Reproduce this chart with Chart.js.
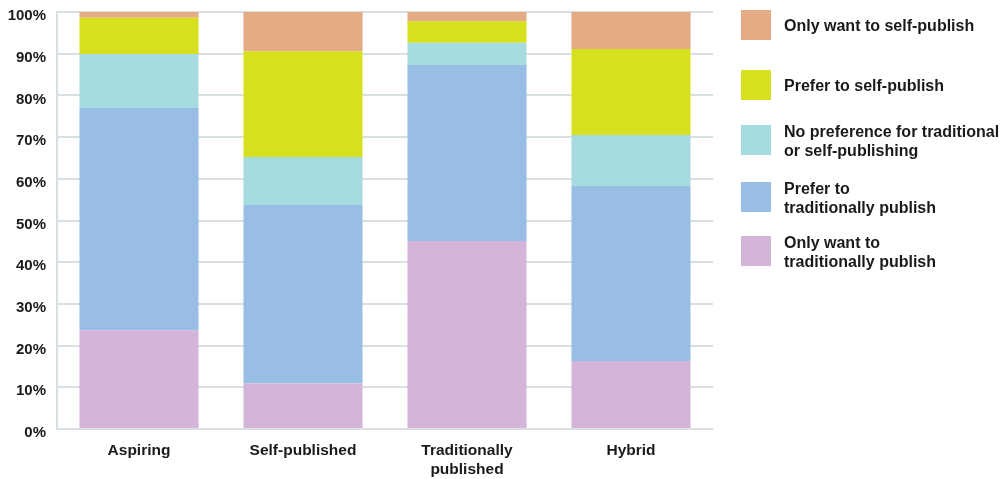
<!DOCTYPE html>
<html>
<head>
<meta charset="utf-8">
<script src="https://cdn.jsdelivr.net/npm/chart.js@4/dist/chart.umd.min.js"></script>
<style>
  html, body { margin: 0; padding: 0; background: #fff; }
  #wrap { width: 1008px; height: 479px; position: relative; }
</style>
</head>
<body>
<div id="wrap"><canvas id="prefChart"></canvas></div>
<script>
const categories = ['Aspiring', 'Self-published', ['Traditionally', 'published'], 'Hybrid'];
const yTicks = [0, 10, 20, 30, 40, 50, 60, 70, 80, 90, 100];

// bottom to top of each stack
const onlyTraditional = [23.7, 11.0, 45.1, 16.3];
const preferTraditional = [53.3, 42.7, 42.2, 42.0];
const noPreference = [12.9, 11.5, 5.3, 12.2];
const preferSelf = [8.7, 25.4, 5.2, 20.6];
const onlySelf = [1.4, 9.4, 2.2, 8.9];

const seriesNames = [
    ['Only want to', 'traditionally publish'],
    ['Prefer to', 'traditionally publish'],
    ['No preference for traditional', 'or self-publishing'],
    ['Prefer to self-publish'],
    ['Only want to self-publish']
];
const seriesColors = ['#d4b4d8', '#99bee6', '#a6dcdf', '#d7e01f', '#e5ab85'];

const FONT = '"Liberation Sans", Arial, Helvetica, sans-serif';

// legend drawn at the right, top item = top of the stack
const sideLegend = {
    id: 'sideLegend',
    afterDraw(chart) {
        const ctx = chart.ctx;
        const rowTops = [10, 70, 125, 182, 236];
        ctx.save();
        ctx.font = 'bold 16px ' + FONT;
        ctx.textBaseline = 'middle';
        ctx.textAlign = 'left';
        const order = chart.data.datasets.slice().reverse();
        order.forEach((ds, i) => {
            const top = rowTops[i];
            ctx.fillStyle = ds.backgroundColor;
            ctx.fillRect(741, top, 30, 30);
            ctx.fillStyle = '#1a1a1a';
            const lines = ds.legendLines;
            const lh = 19;
            const start = top + 15 - (lines.length - 1) * lh / 2;
            lines.forEach((t, j) => ctx.fillText(t, 784, start + j * lh + 2));
        });
        ctx.restore();
    }
};

const seriesData = [onlyTraditional, preferTraditional, noPreference, preferSelf, onlySelf];

const ctx = document.getElementById('prefChart').getContext('2d');
const prefChart = new Chart(ctx, {
    type: 'bar',
    data: {
        labels: categories,
        datasets: seriesData.map((d, i) => ({
            label: seriesNames[i].join(' '),
            legendLines: seriesNames[i],
            data: d,
            backgroundColor: seriesColors[i],
            borderWidth: 0,
            categoryPercentage: 1.0,
            barPercentage: 0.726
        }))
    },
    options: {
        responsive: true,
        maintainAspectRatio: false,
        animation: false,
        layout: { padding: { left: 0, right: 295, top: 12, bottom: 0 } },
        plugins: {
            legend: { display: false },
            tooltip: { enabled: false }
        },
        scales: {
            x: {
                stacked: true,
                grid: { display: false, drawTicks: false },
                border: { display: false },
                ticks: {
                    padding: 12,
                    color: '#1a1a1a',
                    font: { family: FONT, size: 15.5, weight: 'bold', lineHeight: 1.23 }
                },
                afterFit(scale) {
                    scale.height = 50;
                    scale.paddingLeft = 0;
                    scale.paddingRight = 0;
                }
            },
            y: {
                stacked: true,
                min: 0,
                max: 100,
                afterBuildTicks(scale) { scale.ticks = yTicks.map(v => ({ value: v })); },
                grid: { color: '#d9e0e4', lineWidth: 2, drawTicks: false },
                border: { display: true, color: '#d9e0e4', width: 2 },
                ticks: {
                    padding: 11,
                    labelOffset: 4,
                    color: '#1a1a1a',
                    font: { family: FONT, size: 15, weight: 'bold' },
                    callback: v => v + '%'
                },
                afterFit(scale) {
                    scale.width = 57;
                    scale.paddingTop = 0;
                    scale.paddingBottom = 0;
                }
            }
        }
    },
    plugins: [sideLegend]
});
</script>
</body>
</html>
